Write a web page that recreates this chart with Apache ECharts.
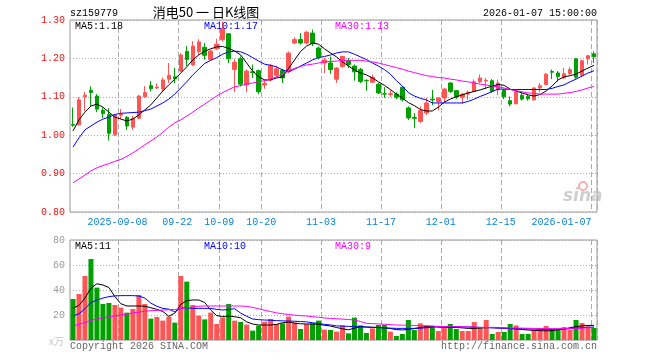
<!DOCTYPE html>
<html><head><meta charset="utf-8">
<script src="https://cdn.jsdelivr.net/npm/echarts@6/dist/echarts.min.js"></script>
<style>html,body{margin:0;padding:0;background:#fff}#c{width:660px;height:360px}</style>
</head><body><div id="c"></div>
<script>
const dates = [
'2025-08-27','2025-08-28','2025-08-29','2025-09-01','2025-09-02','2025-09-03','2025-09-04','2025-09-05',
'2025-09-08','2025-09-09','2025-09-10','2025-09-11','2025-09-12','2025-09-15','2025-09-16','2025-09-17','2025-09-18','2025-09-19',
'2025-09-22','2025-09-23','2025-09-24','2025-09-25','2025-09-26','2025-09-29','2025-09-30',
'2025-10-09','2025-10-10','2025-10-13','2025-10-14','2025-10-15','2025-10-16','2025-10-17',
'2025-10-20','2025-10-21','2025-10-22','2025-10-23','2025-10-24','2025-10-27','2025-10-28','2025-10-29','2025-10-30','2025-10-31',
'2025-11-03','2025-11-04','2025-11-05','2025-11-06','2025-11-07','2025-11-10','2025-11-11','2025-11-12','2025-11-13','2025-11-14',
'2025-11-17','2025-11-18','2025-11-19','2025-11-20','2025-11-21','2025-11-24','2025-11-25','2025-11-26','2025-11-27','2025-11-28',
'2025-12-01','2025-12-02','2025-12-03','2025-12-04','2025-12-05','2025-12-08','2025-12-09','2025-12-10','2025-12-11','2025-12-12',
'2025-12-15','2025-12-16','2025-12-17','2025-12-18','2025-12-19','2025-12-22','2025-12-23','2025-12-24','2025-12-25','2025-12-26',
'2025-12-29','2025-12-30','2025-12-31','2026-01-05','2026-01-06','2026-01-07'];

const openP = [1.028,1.027,1.100,1.117,1.102,1.065,1.054,1.001,1.052,1.047,
 1.021,1.044,1.100,1.129,1.123,1.120,1.146,1.152,1.167,1.218,
 1.183,1.217,1.229,1.197,1.225,1.249,1.264,1.171,1.199,1.131,
 1.165,1.168,1.131,1.144,1.156,1.169,1.166,1.240,1.249,1.240,
 1.266,1.227,1.188,1.188,1.146,1.179,1.194,1.180,1.171,1.143,
 1.138,1.133,1.108,1.106,1.107,1.125,1.071,1.046,1.036,1.058,
 1.094,1.088,1.097,1.136,1.116,1.099,1.107,1.114,1.139,1.141,
 1.142,1.118,1.118,1.090,1.082,1.104,1.101,1.092,1.123,1.132,
 1.166,1.162,1.149,1.160,1.199,1.156,1.199,1.212];
const closeP = [1.026,1.092,1.104,1.111,1.068,1.056,1.005,1.053,1.054,1.024,
 1.044,1.102,1.111,1.121,1.125,1.144,1.156,1.147,1.209,1.197,
 1.232,1.243,1.208,1.219,1.237,1.277,1.199,1.190,1.133,1.167,
 1.163,1.113,1.135,1.181,1.173,1.149,1.214,1.249,1.240,1.268,
 1.238,1.203,1.196,1.171,1.175,1.205,1.184,1.165,1.140,1.142,
 1.151,1.110,1.107,1.108,1.099,1.092,1.045,1.044,1.064,1.084,
 1.092,1.097,1.120,1.114,1.100,1.107,1.112,1.139,1.149,1.143,
 1.114,1.136,1.100,1.081,1.112,1.094,1.095,1.123,1.129,1.159,
 1.164,1.153,1.160,1.171,1.151,1.194,1.207,1.204];
const lowP = [1.022,1.025,1.063,1.075,1.060,1.045,0.986,0.998,1.042,1.014,
 1.014,1.042,1.098,1.114,1.120,1.115,1.136,1.136,1.165,1.180,
 1.180,1.209,1.197,1.194,1.222,1.244,1.188,1.112,1.127,1.112,
 1.149,1.107,1.121,1.140,1.150,1.136,1.162,1.237,1.236,1.237,
 1.232,1.197,1.162,1.160,1.136,1.176,1.175,1.142,1.136,1.116,
 1.136,1.107,1.097,1.100,1.094,1.088,1.040,1.019,1.032,1.053,
 1.078,1.065,1.084,1.110,1.095,1.081,1.092,1.112,1.136,1.120,
 1.110,1.104,1.094,1.075,1.080,1.090,1.090,1.090,1.112,1.131,
 1.146,1.140,1.146,1.156,1.147,1.151,1.184,1.188];
const highP = [1.072,1.099,1.113,1.127,1.107,1.072,1.070,1.055,1.068,1.049,
 1.050,1.105,1.128,1.141,1.135,1.150,1.188,1.175,1.214,1.232,
 1.245,1.250,1.240,1.222,1.251,1.296,1.266,1.198,1.205,1.171,
 1.184,1.171,1.145,1.186,1.180,1.173,1.218,1.255,1.266,1.272,
 1.275,1.231,1.201,1.205,1.177,1.207,1.201,1.184,1.175,1.145,
 1.158,1.136,1.125,1.117,1.112,1.127,1.075,1.058,1.075,1.097,
 1.118,1.099,1.123,1.138,1.118,1.110,1.116,1.145,1.158,1.149,
 1.146,1.145,1.120,1.101,1.116,1.110,1.105,1.125,1.136,1.162,
 1.171,1.167,1.175,1.177,1.200,1.197,1.208,1.218];
const volume = [32.8,36.8,51.2,64.8,41.9,28.8,29.6,28.0,25.9,21.9,
 24.8,36.0,28.8,17.1,18.4,15.5,18.7,13.9,51.2,46.7,
 28.0,19.5,16.5,21.9,12.8,18.1,28.8,15.5,14.4,12.3,
 7.5,11.5,14.7,16.8,12.8,13.3,18.7,13.9,8.8,12.8,
 13.3,15.5,8.3,8.0,6.7,11.7,5.3,17.9,11.7,5.6,
 9.3,12.0,12.0,6.7,3.2,4.8,16.0,8.0,13.3,11.7,
 11.2,7.2,10.1,12.8,8.8,7.2,7.2,14.4,9.3,16.0,
 4.8,6.4,6.4,12.8,11.7,4.8,4.8,8.0,8.0,11.2,
 8.0,8.0,10.4,8.0,16.0,13.6,10.9,9.6];
const ma5 = [1.011,1.040,1.060,1.076,1.081,1.073,1.060,1.047,1.042,1.037,
 1.042,1.053,1.066,1.079,1.097,1.115,1.131,1.146,1.162,1.178,
 1.196,1.209,1.219,1.225,1.230,1.231,1.226,1.219,1.209,1.188,
 1.167,1.152,1.144,1.144,1.149,1.152,1.174,1.196,1.218,1.232,
 1.240,1.237,1.225,1.214,1.204,1.191,1.180,1.170,1.162,1.157,
 1.149,1.139,1.130,1.119,1.107,1.097,1.085,1.077,1.067,1.063,
 1.063,1.073,1.086,1.094,1.100,1.105,1.110,1.114,1.118,1.123,
 1.128,1.132,1.130,1.120,1.115,1.110,1.105,1.102,1.106,1.115,
 1.128,1.144,1.152,1.155,1.159,1.167,1.175,1.182];
const ma10 = [0.969,0.993,1.014,1.024,1.034,1.042,1.047,1.054,1.057,1.058,
 1.059,1.060,1.064,1.068,1.076,1.084,1.094,1.107,1.123,1.139,
 1.157,1.172,1.187,1.195,1.202,1.211,1.217,1.219,1.217,1.211,
 1.202,1.193,1.185,1.182,1.178,1.170,1.165,1.172,1.180,1.188,
 1.196,1.202,1.205,1.209,1.214,1.217,1.217,1.211,1.204,1.197,
 1.188,1.180,1.171,1.159,1.142,1.128,1.111,1.102,1.096,1.092,
 1.084,1.084,1.084,1.084,1.084,1.084,1.088,1.094,1.101,1.107,
 1.114,1.120,1.120,1.119,1.119,1.119,1.119,1.119,1.119,1.119,
 1.122,1.127,1.131,1.139,1.146,1.154,1.162,1.168];
const ma30 = [0.876,0.886,0.896,0.907,0.915,0.921,0.926,0.932,0.937,0.945,
 0.954,0.964,0.975,0.985,0.995,1.008,1.021,1.032,1.040,1.050,
 1.060,1.071,1.081,1.092,1.102,1.111,1.119,1.126,1.129,1.133,
 1.136,1.139,1.142,1.146,1.152,1.158,1.167,1.174,1.179,1.183,
 1.185,1.188,1.191,1.192,1.193,1.195,1.195,1.195,1.195,1.193,
 1.191,1.188,1.184,1.180,1.176,1.172,1.167,1.163,1.159,1.155,
 1.153,1.150,1.149,1.146,1.144,1.141,1.139,1.136,1.133,1.131,
 1.128,1.126,1.123,1.119,1.116,1.113,1.110,1.109,1.107,1.107,
 1.107,1.107,1.109,1.111,1.114,1.118,1.123,1.127];
const vma5 = [25.5,27.7,33.5,41.5,45.0,44.0,42.0,34.7,29.0,27.2,
 27.2,27.2,27.0,25.8,24.5,22.8,19.0,21.5,28.5,31.5,
 32.0,32.0,30.0,24.0,19.5,18.8,19.2,18.6,17.8,14.5,
 12.8,12.0,12.0,12.0,12.5,13.8,14.3,13.5,13.0,12.8,
 12.8,12.5,11.8,11.2,10.0,9.0,8.2,9.5,10.7,10.3,
 10.1,10.1,9.7,9.2,8.3,8.1,8.4,9.2,10.0,10.8,
 11.0,10.3,10.1,10.1,10.0,9.7,9.3,9.3,9.5,9.9,
 10.1,9.9,9.6,9.2,8.8,8.4,8.0,7.7,7.5,7.3,
 7.5,8.2,8.9,9.8,10.7,11.3,11.7,11.7];
const vma10 = [19.3,21.0,25.0,30.0,32.0,33.5,34.7,35.3,35.5,35.5,
 35.5,35.2,33.5,29.5,27.0,25.3,24.7,22.5,25.5,25.8,
 25.3,25.3,25.3,25.3,24.5,24.0,24.5,25.0,21.5,19.0,
 16.8,16.3,16.0,15.8,15.5,15.3,15.2,15.0,14.8,14.5,
 13.8,13.2,12.5,12.0,11.3,11.1,10.9,10.7,10.6,10.4,
 10.2,9.9,9.7,9.5,9.3,9.3,9.3,9.3,9.4,9.9,
 10.3,10.7,10.7,10.7,10.7,10.6,10.4,10.2,10.1,9.9,
 9.7,9.4,9.3,9.2,9.1,9.0,8.9,8.7,8.5,8.5,
 8.5,8.5,8.7,9.1,9.5,9.9,10.2,10.4];
const vma30 = [11.2,12.5,14.0,15.7,16.8,17.7,18.5,19.3,20.0,20.8,
 21.7,22.3,23.0,23.5,23.7,24.0,24.2,24.4,25.0,25.7,
 26.3,27.0,27.2,27.2,27.2,27.2,27.2,27.2,27.2,26.8,
 26.1,25.0,23.8,22.8,21.7,21.0,20.4,19.9,19.5,19.2,
 18.7,18.2,17.6,17.3,17.0,16.7,16.4,16.0,14.8,13.3,
 13.1,12.9,12.6,12.3,12.0,11.9,11.8,11.6,11.5,11.3,
 11.1,10.9,10.7,10.7,10.7,10.7,10.5,10.3,10.1,10.0,
 9.9,9.8,9.7,9.6,9.6,9.5,9.4,9.3,9.2,9.2,
 9.1,9.1,9.2,9.2,9.3,9.5,9.8,10.0];

const tickDates = ['2025-09-08','2025-09-22','2025-10-09','2025-10-20','2025-11-03','2025-11-17','2025-12-01','2025-12-15','2026-01-07'];
const tickLabels = ['2025-09-08','09-22','10-09','10-20','11-03','11-17','12-01','12-15','2026-01-07'];
const priceTicks = [0.80, 0.90, 1.00, 1.10, 1.20, 1.30];
const volTicks = [0, 20, 40, 60, 80];

const UP = '#ff5555', DOWN = '#00a000';
const MONO = '"Liberation Mono", "DejaVu Sans Mono", monospace';

const chart = echarts.init(document.getElementById('c'), null, {renderer: 'canvas'});

const showTick = (idx, val) => tickDates.indexOf(val) >= 0;
const splitX = {show: true, interval: showTick, lineStyle: {color: '#aaa', type: [5, 3], width: 1}};
const splitY = {show: true, lineStyle: {color: '#aaa', type: [1, 2], width: 1}};

const option = {
  animation: false,
  backgroundColor: '#fff',
  grid: [
    {left: 70, top: 20, width: 527, height: 192, show: true, borderColor: '#999', borderWidth: 1, backgroundColor: 'transparent'},
    {left: 70, top: 240, width: 527, height: 100, show: true, borderColor: '#999', borderWidth: 1, backgroundColor: 'transparent'}
  ],
  xAxis: [
    {type: 'category', gridIndex: 0, data: dates, boundaryGap: true,
     axisLine: {show: false}, axisTick: {show: false}, splitLine: splitX,
     axisLabel: {show: true, interval: showTick, margin: 5,
       formatter: (val) => {
         const k = tickDates.indexOf(val);
         if (k < 0) return '';
         return (k === tickDates.length - 1 ? '{r|' : '{c|') + tickLabels[k] + '}';
       },
       rich: {
         c: {fontFamily: MONO, fontSize: 10, color: '#0a84d0', padding: [0, 7, 0, 0]},
         r: {fontFamily: MONO, fontSize: 10, color: '#0a84d0', padding: [0, 65, 0, 0]}
       }}},
    {type: 'category', gridIndex: 1, data: dates, boundaryGap: true,
     axisLine: {show: false}, axisTick: {show: false}, axisLabel: {show: false}, splitLine: splitX}
  ],
  yAxis: [
    {type: 'value', gridIndex: 0, min: priceTicks[0], max: priceTicks[priceTicks.length - 1], interval: 0.1,
     axisLine: {show: false}, axisTick: {show: false}, splitLine: splitY,
     axisLabel: {margin: 5, fontFamily: MONO, fontSize: 10, color: '#ee1111', formatter: v => v.toFixed(2)}},
    {type: 'value', gridIndex: 1, min: volTicks[0], max: volTicks[volTicks.length - 1], interval: 20,
     axisLine: {show: false}, axisTick: {show: false}, splitLine: splitY,
     axisLabel: {margin: 5, fontFamily: MONO, fontSize: 10, color: '#999', formatter: v => v === 0 ? '' : String(v)}}
  ],
  series: [
    {type: 'candlestick', xAxisIndex: 0, yAxisIndex: 0, barWidth: 4,
     data: dates.map((d, i) => [openP[i], closeP[i], lowP[i], highP[i]]),
     itemStyle: {color: UP, color0: DOWN, borderColor: UP, borderColor0: DOWN, borderWidth: 1}},
    {type: 'line', xAxisIndex: 0, yAxisIndex: 0, data: ma5, showSymbol: false, symbol: 'none', lineStyle: {color: '#000', width: 1}},
    {type: 'line', xAxisIndex: 0, yAxisIndex: 0, data: ma10, showSymbol: false, symbol: 'none', lineStyle: {color: '#0000ff', width: 1}},
    {type: 'line', xAxisIndex: 0, yAxisIndex: 0, data: ma30, showSymbol: false, symbol: 'none', lineStyle: {color: '#ff00ff', width: 1}},
    {type: 'bar', xAxisIndex: 1, yAxisIndex: 1, barWidth: 5,
     data: volume.map((v, i) => ({value: v, itemStyle: {color: closeP[i] >= openP[i] ? UP : DOWN}}))},
    {type: 'line', xAxisIndex: 1, yAxisIndex: 1, data: vma5, showSymbol: false, symbol: 'none', lineStyle: {color: '#000', width: 1}},
    {type: 'line', xAxisIndex: 1, yAxisIndex: 1, data: vma10, showSymbol: false, symbol: 'none', lineStyle: {color: '#0000ff', width: 1}},
    {type: 'line', xAxisIndex: 1, yAxisIndex: 1, data: vma30, showSymbol: false, symbol: 'none', lineStyle: {color: '#ff00ff', width: 1}}
  ],
  graphic: [
    {type: 'text', x: 70, y: 13, style: {text: 'sz159779', font: '10px ' + MONO, fill: '#000', verticalAlign: 'middle'}},
    {type: 'text', x: 206, y: 12, style: {text: '消电50 一 日K线图', font: '13px "Noto Sans CJK SC"', fill: '#000', align: 'center', verticalAlign: 'middle'}},
    {type: 'text', x: 597, y: 13, style: {text: '2026-01-07 15:00:00', font: '10px ' + MONO, fill: '#000', align: 'right', verticalAlign: 'middle'}},
    {type: 'text', x: 75, y: 26, z: 10, style: {text: 'MA5:1.18', font: '10px ' + MONO, fill: '#000', verticalAlign: 'middle'}},
    {type: 'text', x: 204, y: 26, z: 10, style: {text: 'MA10:1.17', font: '10px ' + MONO, fill: '#0000ff', verticalAlign: 'middle'}},
    {type: 'text', x: 335, y: 26, z: 10, style: {text: 'MA30:1.13', font: '10px ' + MONO, fill: '#ff00ff', verticalAlign: 'middle'}},
    {type: 'text', x: 75, y: 246, z: 10, style: {text: 'MA5:11', font: '10px ' + MONO, fill: '#000', verticalAlign: 'middle'}},
    {type: 'text', x: 204, y: 246, z: 10, style: {text: 'MA10:10', font: '10px ' + MONO, fill: '#0000ff', verticalAlign: 'middle'}},
    {type: 'text', x: 335, y: 246, z: 10, style: {text: 'MA30:9', font: '10px ' + MONO, fill: '#ff00ff', verticalAlign: 'middle'}},
    {type: 'text', x: 49, y: 341, style: {text: 'x万', font: '10px "Noto Sans CJK SC"', fill: '#c8c8c8', verticalAlign: 'middle'}},
    {type: 'text', x: 70, y: 346, style: {text: 'Copyright 2026 SINA.COM', font: '10px ' + MONO, fill: '#666', verticalAlign: 'middle'}},
    {type: 'text', x: 597, y: 346, style: {text: 'http://finance.sina.com.cn', font: '10px ' + MONO, fill: '#666', align: 'right', verticalAlign: 'middle'}},
    {type: 'text', x: 563, y: 197, z: 0, style: {text: 'sina', font: 'italic bold 17px "DejaVu Sans"', fill: '#cfcfcf', verticalAlign: 'middle'}},
    {type: 'circle', shape: {cx: 583, cy: 186, r: 4}, style: {fill: 'none', stroke: '#f3b0b0', lineWidth: 2}}
  ]
};
chart.setOption(option);
</script>
</body></html>
